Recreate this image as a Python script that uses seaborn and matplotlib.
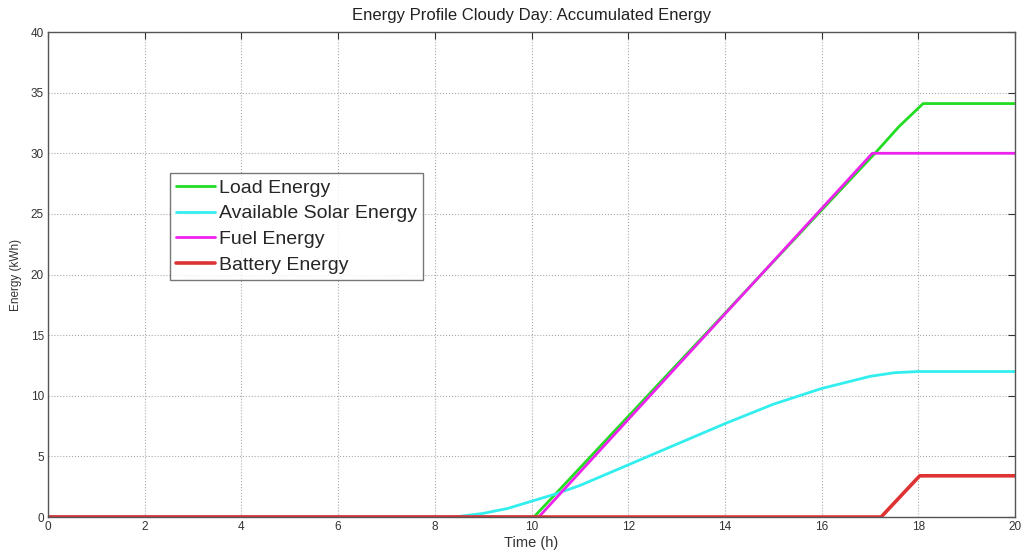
import matplotlib
matplotlib.use("Agg")
import matplotlib.pyplot as plt
import seaborn as sns
import numpy as np

# ---- data ----
load_t = [0, 10.05, 17.15, 17.6, 18.1, 20]
load_e = [0, 0, 30.2, 32.2, 34.1, 34.1]

solar_t = [0, 8.4, 9.0, 9.5, 10.0, 10.5, 11.0, 12.0, 13.0, 14.0, 15.0, 16.0, 17.0, 17.5, 18.0, 20.0]
solar_e = [0, 0, 0.3, 0.7, 1.3, 1.9, 2.6, 4.3, 6.0, 7.7, 9.3, 10.6, 11.6, 11.9, 12.0, 12.0]

fuel_t = [0, 10.15, 17.05, 20]
fuel_e = [0, 0, 30.0, 30.0]

batt_t = [0, 17.23, 18.03, 20]
batt_e = [0, 0, 3.4, 3.4]

series = [
    ("Load Energy", load_t, load_e, "#22dd22", 2.0),
    ("Available Solar Energy", solar_t, solar_e, "#33eeee", 2.0),
    ("Fuel Energy", fuel_t, fuel_e, "#ee22ee", 2.0),
    ("Battery Energy", batt_t, batt_e, "#dd3333", 2.6),
]

x_ticks = list(range(0, 21, 2))
y_ticks = list(range(0, 41, 5))

sns.set_style("white")
plt.rcParams['font.family'] = ['Liberation Sans', 'DejaVu Sans']

fig = plt.figure(figsize=(10.24, 5.59), dpi=100)
ax = fig.add_axes([0.0469, 0.0751, 0.9443, 0.8676])

for name, t, e, c, lw in series:
    sns.lineplot(x=t, y=e, ax=ax, color=c, linewidth=lw, label=name,
                 estimator=None, sort=False)

ax.set_xlim(0, 20)
ax.set_ylim(0, 40)
ax.set_xticks(x_ticks)
ax.set_yticks(y_ticks)
ax.tick_params(direction='in', top=True, right=True, length=5, width=0.8,
               labelsize=8.5, colors='#333333', pad=3)
ax.grid(True, linestyle=':', color='#aaaaaa', linewidth=0.8)
for s in ax.spines.values():
    s.set_color('#555555')
    s.set_linewidth(1.0)

ax.set_title("Energy Profile Cloudy Day: Accumulated Energy", fontsize=12, pad=9, color='#222222')
ax.set_xlabel("Time (h)", fontsize=10.5, labelpad=2, color='#333333')
ax.set_ylabel("Energy (kWh)", fontsize=8.5, labelpad=6, color='#333333')

leg = ax.legend(loc='upper left', bbox_to_anchor=(0.126, 0.709), fontsize=14,
                frameon=True, fancybox=False, edgecolor='#555555',
                handlelength=2.0, handletextpad=0.25, borderpad=0.3,
                labelspacing=0.42, borderaxespad=0)
leg.get_frame().set_linewidth(1.0)

fig.savefig("out.png", dpi=100)
